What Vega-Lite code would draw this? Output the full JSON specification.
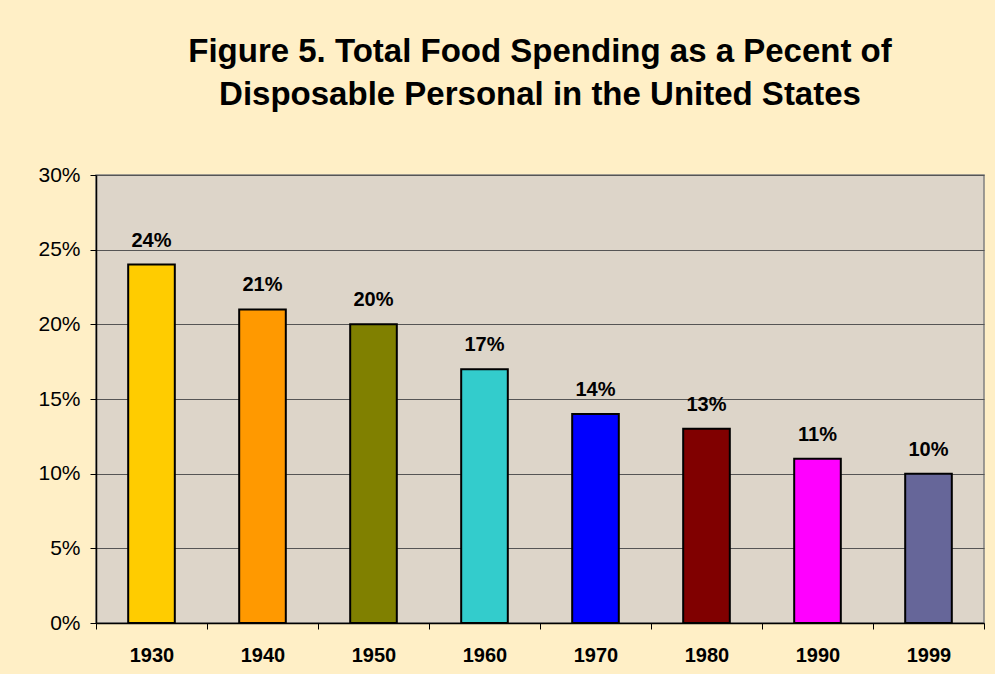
{
  "$schema": "https://vega.github.io/schema/vega-lite/v6.json",
  "autosize": "none",
  "padding": {"left": 96, "top": 175, "right": 11, "bottom": 51},
  "width": 888,
  "height": 448,
  "background": "#FFEFC6",
  "title": {
    "text": ["Figure 5. Total Food Spending as a Pecent of", "Disposable Personal in the United States"],
    "font": "Liberation Sans",
    "fontSize": 33,
    "fontWeight": "bold",
    "lineHeight": 43,
    "color": "#000000",
    "anchor": "middle",
    "offset": 52
  },
  "data": {
    "values": [
      {"year": "1930", "share": 0.24},
      {"year": "1940", "share": 0.21},
      {"year": "1950", "share": 0.20},
      {"year": "1960", "share": 0.17},
      {"year": "1970", "share": 0.14},
      {"year": "1980", "share": 0.13},
      {"year": "1990", "share": 0.11},
      {"year": "1999", "share": 0.10}
    ]
  },
  "encoding": {
    "x": {
      "field": "year",
      "type": "nominal",
      "sort": null,
      "scale": {"paddingInner": 0, "paddingOuter": 0},
      "axis": {
        "title": null,
        "labelAngle": 0,
        "labelFont": "Liberation Sans",
        "labelFontSize": 20,
        "labelFontWeight": "bold",
        "labelColor": "#000000",
        "labelPadding": 16,
        "tickBand": "extent",
        "tickSize": 6,
        "tickColor": "#000000",
        "domainColor": "#000000",
        "domainWidth": 1.5,
        "grid": false
      }
    },
    "y": {
      "field": "share",
      "type": "quantitative",
      "scale": {"domain": [0, 0.3], "nice": false},
      "axis": {
        "title": null,
        "values": [0, 0.05, 0.1, 0.15, 0.2, 0.25, 0.3],
        "format": ".0%",
        "labelFont": "Liberation Sans",
        "labelFontSize": 21,
        "labelColor": "#000000",
        "labelPadding": 10,
        "tickSize": 6,
        "tickColor": "#000000",
        "domainColor": "#000000",
        "domainWidth": 1.5,
        "grid": true,
        "gridColor": "#555555",
        "gridWidth": 1.2
      }
    }
  },
  "layer": [
    {
      "mark": {"type": "bar", "width": {"band": 0.42}, "stroke": "#000000", "strokeWidth": 2},
      "encoding": {
        "color": {
          "field": "year",
          "type": "nominal",
          "sort": null,
          "scale": {"range": ["#FFCC00", "#FF9900", "#808000", "#33CCCC", "#0000FF", "#800000", "#FF00FF", "#666699"]},
          "legend": null
        }
      }
    },
    {
      "mark": {"type": "text", "font": "Liberation Sans", "fontSize": 20, "fontWeight": "bold", "baseline": "alphabetic", "dy": -18, "color": "#000000"},
      "encoding": {
        "text": {"field": "share", "type": "quantitative", "format": ".0%"}
      }
    }
  ],
  "config": {
    "view": {"fill": "#DDD5C9", "stroke": "#808080", "strokeWidth": 1.5}
  }
}
